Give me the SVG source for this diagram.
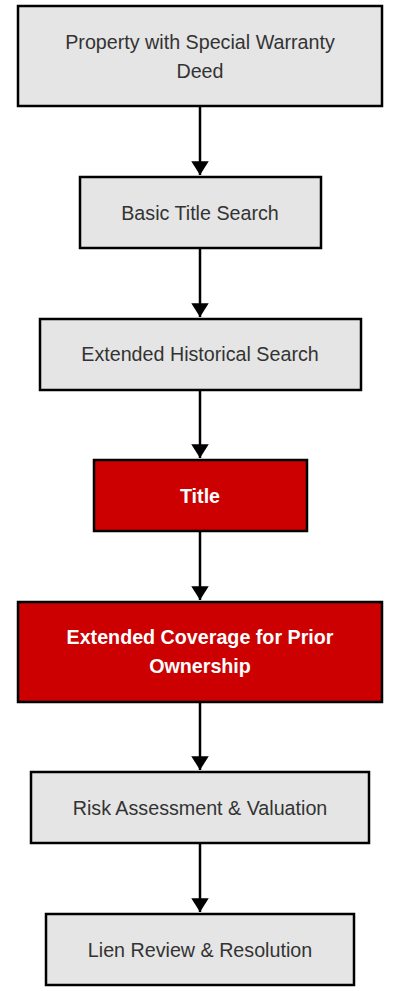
<svg xmlns="http://www.w3.org/2000/svg" width="402" height="991" viewBox="0 0 402 991">
<style>
.n{fill:#e5e5e5;stroke:#000;stroke-width:2.5}
.r{fill:#cc0000;stroke:#000;stroke-width:2.5}
.t{font-family:"Liberation Sans",Arial,sans-serif;font-size:19.7px;fill:#333;text-anchor:middle;dominant-baseline:central}
.w{font-family:"Liberation Sans",Arial,sans-serif;font-size:19.7px;font-weight:bold;fill:#fff;text-anchor:middle;dominant-baseline:central}
.c{stroke:#000;stroke-width:2.5;fill:none;marker-end:url(#a)}
</style>
<defs>
<marker id="a" markerWidth="6" markerHeight="7" refX="5.5" refY="3.5" orient="auto" markerUnits="strokeWidth"><path d="M0,0L5.5,3.5L0,7z" fill="#000"/></marker>
</defs>
<rect width="402" height="991" fill="#fff"/>
<g id="connectors">
<line class="c" x1="200" y1="107" x2="200" y2="175"/>
<line class="c" x1="200" y1="249" x2="200" y2="317"/>
<line class="c" x1="200" y1="391" x2="200" y2="458"/>
<line class="c" x1="200" y1="532" x2="200" y2="600"/>
<line class="c" x1="200" y1="703" x2="200" y2="770"/>
<line class="c" x1="200" y1="844" x2="200" y2="912"/>
</g>
<g id="n1"><rect class="n" x="18" y="6" width="364" height="100"/><text class="t" x="200" y="42">Property with Special Warranty</text><text class="t" x="200" y="71">Deed</text></g>
<g id="n2"><rect class="n" x="80" y="177" width="241" height="71"/><text class="t" x="200" y="213">Basic Title Search</text></g>
<g id="n3"><rect class="n" x="40" y="319" width="321" height="71"/><text class="t" x="200" y="354">Extended Historical Search</text></g>
<g id="n4"><rect class="r" x="94" y="460" width="213" height="71"/><text class="w" x="200" y="496">Title</text></g>
<g id="n5"><rect class="r" x="18" y="602" width="364" height="100"/><text class="w" x="200" y="637">Extended Coverage for Prior</text><text class="w" x="200" y="666">Ownership</text></g>
<g id="n6"><rect class="n" x="31" y="772" width="338" height="71"/><text class="t" x="200" y="808">Risk Assessment &amp; Valuation</text></g>
<g id="n7"><rect class="n" x="46" y="914" width="308" height="71"/><text class="t" x="200" y="950">Lien Review &amp; Resolution</text></g>
</svg>
